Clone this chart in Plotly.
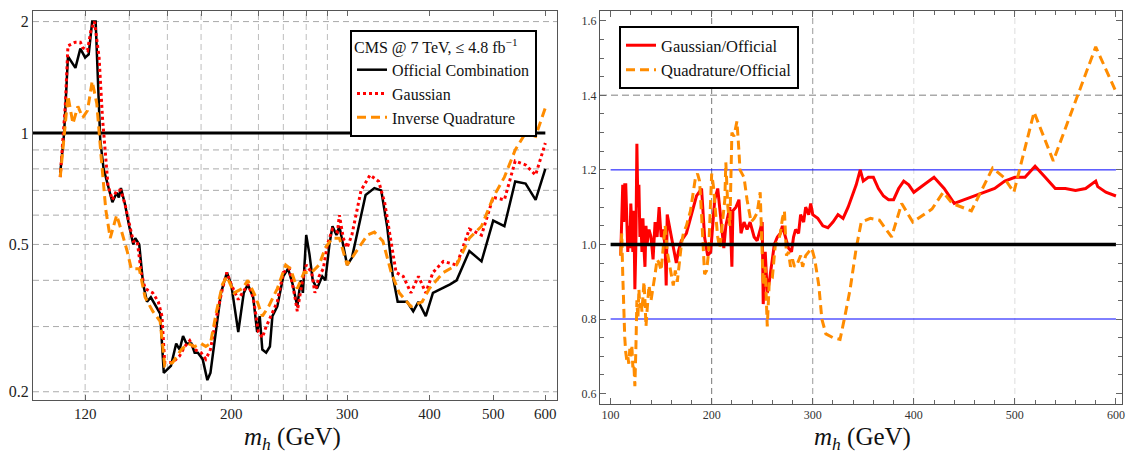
import math
import plotly.graph_objects as go

# ---------------- data ----------------
mass_official = [110, 111.5, 113, 116, 118, 120, 121.5, 123, 124.5, 126.5,
                 128, 130, 132, 134, 135, 136, 138, 140, 142, 143,
                 145, 147, 149, 151, 154, 156, 158, 162, 165, 167,
                 169, 171, 174, 176, 178, 181, 184, 186, 190, 193,
                 197, 200, 205, 209, 212, 216, 219, 221, 223, 226,
                 229, 231, 235, 240, 244, 248, 252, 255, 257, 260,
                 263, 266, 270, 275, 278, 282, 285, 289, 292, 296,
                 300, 305, 320, 330, 338, 345, 352, 358, 370, 378,
                 385, 395, 405, 430, 440, 460, 480, 500, 520, 540,
                 560, 580, 600]
mu_official = [0.78, 1.0, 1.61, 1.5, 1.69, 1.6, 1.63, 2.0, 2.0, 0.96,
               0.8, 0.72, 0.65, 0.69, 0.67, 0.71, 0.64, 0.56, 0.5, 0.52,
               0.5, 0.39, 0.35, 0.36, 0.34, 0.325, 0.225, 0.235, 0.27, 0.26,
               0.283, 0.27, 0.27, 0.255, 0.255, 0.245, 0.215, 0.225, 0.3, 0.37,
               0.42, 0.39, 0.29, 0.37, 0.39, 0.36, 0.29, 0.32, 0.26, 0.255,
               0.265, 0.32, 0.34, 0.41, 0.43, 0.39, 0.34, 0.4, 0.37, 0.53,
               0.47, 0.4, 0.38, 0.41, 0.4, 0.5, 0.56, 0.53, 0.56, 0.5,
               0.44, 0.46, 0.68, 0.71, 0.7, 0.56, 0.41, 0.35, 0.35, 0.33,
               0.35, 0.32, 0.37, 0.39, 0.4, 0.48, 0.45, 0.58, 0.56, 0.74,
               0.73, 0.66, 0.8]

mass_gauss = [110, 112, 113, 116, 118, 119, 121, 122.5, 124, 126,
              127.5, 129, 130, 132, 134, 136, 138, 140, 142, 144,
              146, 148, 152, 155, 157, 158.5, 163, 167, 170, 173,
              176, 180, 183, 186, 190, 194, 197, 200, 205, 212,
              216, 220, 223, 226, 230, 235, 240, 245, 250, 252,
              256, 260, 265, 268, 272, 276, 280, 285, 290, 292,
              296, 300, 305, 315, 325, 335, 342, 350, 356, 365,
              375, 385, 395, 405, 420, 440, 460, 480, 500, 520,
              540, 560, 580, 600]
mu_gauss = [0.76, 1.2, 1.72, 1.76, 1.76, 1.7, 1.67, 1.9, 2.0, 1.6,
            1.1, 0.85, 0.72, 0.66, 0.7, 0.7, 0.64, 0.57, 0.51, 0.51,
            0.42, 0.38, 0.37, 0.35, 0.32, 0.24, 0.24, 0.25, 0.265, 0.275,
            0.26, 0.255, 0.245, 0.26, 0.32, 0.38, 0.42, 0.39, 0.355, 0.39,
            0.36, 0.29, 0.28, 0.3, 0.32, 0.35, 0.42, 0.43, 0.36, 0.33,
            0.39, 0.44, 0.42, 0.37, 0.41, 0.43, 0.5, 0.55, 0.54, 0.6,
            0.52, 0.49, 0.53, 0.7, 0.77, 0.74, 0.65, 0.5, 0.42, 0.41,
            0.37, 0.41, 0.37, 0.42, 0.45, 0.44, 0.55, 0.53, 0.67, 0.66,
            0.84, 0.82, 0.77, 0.94]

mass_quad = [110, 112, 113, 115, 117, 119, 121, 123, 125, 127,
             129, 131, 134, 136, 139, 141, 145, 148, 152, 156,
             158.5, 163, 168, 172, 176, 180, 183, 186, 190, 194,
             197, 202, 208, 212, 218, 223, 228, 235, 242, 246,
             252, 258, 265, 272, 278, 285, 292, 300, 310, 322,
             330, 340, 350, 360, 375, 390, 400, 420, 440, 460,
             480, 500, 520, 540, 560, 580, 600]
mu_quad = [0.76, 1.05, 1.26, 1.06, 1.18, 1.1, 1.15, 1.38, 1.2, 0.85,
           0.62, 0.52, 0.6, 0.55, 0.48, 0.43, 0.43, 0.36, 0.33, 0.31,
           0.235, 0.24, 0.26, 0.27, 0.265, 0.27, 0.265, 0.27, 0.33, 0.39,
           0.41, 0.37, 0.38, 0.4, 0.36, 0.32, 0.34, 0.38, 0.44, 0.43,
           0.38, 0.42, 0.42, 0.44, 0.49, 0.52, 0.52, 0.44, 0.48, 0.53,
           0.54, 0.51, 0.42, 0.37, 0.34, 0.35, 0.38, 0.42, 0.44, 0.52,
           0.56, 0.67, 0.76, 0.9, 1.0, 0.98, 1.17]

mass_ratio_gauss = [110, 111, 112, 113, 114, 115, 116, 117, 118, 119,
                    120, 121, 122, 123, 124, 125, 126, 127, 128, 129,
                    130, 131, 132, 133, 134, 135, 136, 138, 140, 142,
                    144, 146, 148, 150, 152, 154, 155, 156, 158, 160,
                    163, 165, 167, 170, 175, 180, 185, 190, 193, 196,
                    199, 203, 206, 209, 212, 214, 218, 220, 221, 224,
                    227, 229, 232, 235, 238, 242, 245, 248, 250, 251,
                    253, 255, 257, 260, 262, 265, 268, 270, 273, 276,
                    279, 281, 283, 286, 288, 291, 293, 296, 298, 300,
                    305, 310, 315, 320, 325, 330, 335, 340, 343, 347,
                    350, 355, 360, 365, 370, 375, 380, 385, 390, 395,
                    400, 410, 420, 430, 440, 450, 460, 470, 480, 490,
                    500, 510, 520, 530, 540, 550, 560, 570, 580, 582,
                    590, 600]
ratio_gauss = [0.97, 1.05, 1.16, 1.06, 1.16, 1.16, 1.08, 0.98, 1.05, 0.99,
               1.11, 1.05, 0.98, 1.09, 0.88, 1.0, 1.27, 1.1, 1.16, 1.02,
               1.07, 0.98, 1.07, 0.99, 0.94, 1.05, 1.0, 1.04, 1.02, 0.96,
               1.06, 1.02, 1.1, 1.02, 1.04, 0.99, 0.89, 1.08, 1.05, 1.02,
               0.98, 0.95, 0.98, 1.01, 1.03, 1.08, 1.13, 1.15, 1.02, 0.97,
               0.98, 1.12, 1.15, 1.07, 0.99, 1.05, 1.1, 0.94, 1.09, 1.1,
               1.12, 1.03, 1.06, 1.04, 1.06, 1.02, 1.01, 1.04, 1.06, 0.84,
               0.98, 0.87, 0.9, 0.96, 1.0, 1.02, 1.03, 1.05, 1.02, 0.99,
               0.98, 1.02, 1.04, 1.03, 1.08, 1.06, 1.1, 1.08, 1.11, 1.08,
               1.07, 1.05, 1.045, 1.06, 1.08, 1.07, 1.1, 1.14, 1.16, 1.2,
               1.17, 1.18, 1.18, 1.15, 1.13, 1.12, 1.12, 1.15, 1.17, 1.16,
               1.14, 1.16, 1.18, 1.15, 1.11, 1.12, 1.13, 1.14, 1.15, 1.17,
               1.18, 1.18, 1.21, 1.18, 1.15, 1.15, 1.145, 1.15, 1.17, 1.155,
               1.14, 1.13]

mass_ratio_quad = [110, 111, 112, 113, 114, 115, 116, 117, 118, 119,
                   120, 121, 122, 123, 124, 125, 126, 127, 128, 129,
                   130, 131, 132, 133, 134, 135, 136, 138, 140, 142,
                   144, 146, 148, 150, 152, 154, 156, 158, 160, 162,
                   164, 166, 168, 170, 172, 175, 179, 182, 184, 186,
                   188, 190, 192, 193, 195, 197, 200, 202, 204, 206,
                   208, 211, 213, 214, 216, 218, 219, 220, 222, 225,
                   227, 228, 230, 232, 235, 239, 242, 245, 248, 249,
                   251, 253, 255, 257, 260, 263, 266, 268, 270, 272,
                   274, 276, 278, 280, 282, 285, 288, 290, 293, 296,
                   299, 302, 306, 309, 313, 320, 327, 332, 337, 343,
                   348, 357, 366, 378, 388, 399, 418, 429, 438, 457,
                   478, 489, 499, 519, 538, 580, 600]
ratio_quad = [0.97, 1.03, 0.92, 0.81, 0.75, 0.71, 0.69, 0.7, 0.68, 0.72,
              0.7, 0.73, 0.67, 0.68, 0.62, 0.72, 0.85, 0.8, 0.88, 0.83,
              0.85, 0.82, 0.88, 0.9, 0.85, 0.78, 0.82, 0.89, 0.85, 0.88,
              0.92, 0.96, 0.95, 0.93, 1.0, 1.05, 0.98, 0.95, 0.92, 0.89,
              0.93, 0.9, 0.95, 1.0, 1.03, 1.05, 1.09, 1.14, 1.18, 1.19,
              1.17, 1.08, 0.96, 0.92, 0.93, 0.98, 1.19, 1.15, 1.08, 1.02,
              0.99, 1.07, 1.12, 1.22, 1.1, 1.05, 1.23, 1.3, 1.29, 1.33,
              1.25, 1.2, 1.19, 1.18, 1.12, 1.06, 1.07, 1.085, 1.14, 1.05,
              0.89, 0.94, 0.78, 0.9, 0.91, 1.0, 1.01, 1.03, 1.07, 1.09,
              0.97, 0.98, 0.94, 0.96, 0.94, 0.95, 0.97, 0.94, 0.97, 0.98,
              0.99, 0.96, 0.89, 0.8, 0.76, 0.75, 0.745, 0.81, 0.88, 0.99,
              1.06, 1.07, 1.065, 1.02, 1.11, 1.06, 1.095, 1.14, 1.11, 1.09,
              1.205, 1.18, 1.14, 1.355, 1.224, 1.53, 1.41]

left_xticks = [120, 200, 300, 400, 500, 600]
left_xminor = [140, 160, 180, 220, 240, 260, 280]
left_yticks = [0.2, 0.5, 1, 2]
left_yticklabels = ["0.2", "0.5", "1", "2"]
right_xticks = [100, 200, 300, 400, 500, 600]
right_yticks = [0.6, 0.8, 1.0, 1.2, 1.4, 1.6]

# ---------------- figure ----------------
FONT = "Liberation Serif"
ORANGE = "#ff8c00"
RED = "#ff0000"
W, H = 1127, 455

fig = go.Figure()

fig.add_trace(go.Scatter(x=mass_official, y=mu_official, mode="lines",
                         name="Official Combination", legendgroup="a",
                         line=dict(color="black", width=2.5),
                         xaxis="x", yaxis="y", legend="legend"))
fig.add_trace(go.Scatter(x=mass_gauss, y=mu_gauss, mode="lines",
                         name="Gaussian", legendgroup="b",
                         line=dict(color=RED, width=3, dash="3px,3px"),
                         xaxis="x", yaxis="y", legend="legend"))
fig.add_trace(go.Scatter(x=mass_quad, y=mu_quad, mode="lines",
                         name="Inverse Quadrature", legendgroup="c",
                         line=dict(color=ORANGE, width=3, dash="9px,5px"),
                         xaxis="x", yaxis="y", legend="legend"))

fig.add_trace(go.Scatter(x=mass_ratio_gauss, y=ratio_gauss, mode="lines",
                         name="Gaussian/Official", legendgroup="d",
                         line=dict(color=RED, width=3),
                         xaxis="x2", yaxis="y2", legend="legend2"))
fig.add_trace(go.Scatter(x=mass_ratio_quad, y=ratio_quad, mode="lines",
                         name="Quadrature/Official", legendgroup="e",
                         line=dict(color=ORANGE, width=3, dash="9px,5px"),
                         xaxis="x2", yaxis="y2", legend="legend2"))

shapes = []
# left panel grid
for m in [120, 140, 160, 180, 200, 220, 240, 260, 280]:
    shapes.append(dict(type="line", xref="x", yref="y domain", x0=m, x1=m, y0=0, y1=1,
                       line=dict(color="#bdbdbd", width=1, dash="6px,4px"), layer="below"))
for v in [0.2, 0.3, 0.4, 0.5, 0.6, 0.7, 0.8, 0.9, 2]:
    shapes.append(dict(type="line", xref="x domain", yref="y", x0=0, x1=1, y0=v, y1=v,
                       line=dict(color="#aaaaaa", width=1, dash="6px,4px"), layer="below"))
shapes.append(dict(type="line", xref="x", yref="y", x0=100, x1=600, y0=1, y1=1,
                   line=dict(color="black", width=3), layer="below"))

# right panel grid
for m, c in [(200, "#777777"), (300, "#9a9a9a"), (400, "#dddddd"), (500, "#dddddd")]:
    shapes.append(dict(type="line", xref="x2", yref="y2 domain", x0=m, x1=m, y0=0, y1=1,
                       line=dict(color=c, width=1, dash="6px,4px"), layer="below"))
shapes.append(dict(type="line", xref="x2 domain", yref="y2", x0=0, x1=1, y0=1.4, y1=1.4,
                   line=dict(color="#aaaaaa", width=1.5, dash="7px,4px"), layer="below"))
for v in [1.2, 0.8]:
    shapes.append(dict(type="line", xref="x2", yref="y2", x0=100, x1=600, y0=v, y1=v,
                       line=dict(color="#0000ff", width=1), layer="below"))
shapes.append(dict(type="line", xref="x2", yref="y2", x0=100, x1=600, y0=1, y1=1,
                   line=dict(color="black", width=3.5), layer="above"))

axis_common = dict(showline=True, linecolor="#555555", linewidth=1, showgrid=False,
                   zeroline=False, ticks="inside", tickcolor="#666666",
                   automargin=False, ticklabeloverflow="allow")

fig.update_layout(
    width=W, height=H,
    margin=dict(l=0, r=0, t=0, b=0, pad=0, autoexpand=False),
    paper_bgcolor="white", plot_bgcolor="white",
    font=dict(family=FONT, color="#222222"),
    shapes=shapes,
    xaxis=dict(axis_common, domain=[33 / W, 557 / W], type="log",
               range=[2.0, math.log10(625)], tickmode="array",
               tickvals=left_xticks, ticklen=5,
               minor=dict(tickmode="array", tickvals=left_xminor, ticklen=5,
                          ticks="inside", tickcolor="#666666"),
               mirror="ticks", tickfont=dict(size=15, family=FONT, color="#222222"),
               anchor="y"),
    yaxis=dict(axis_common, domain=[1 - 400 / H, 1 - 10.7 / H], type="log",
               range=[math.log10(0.19), math.log10(2.14)], tickmode="array",
               tickvals=left_yticks, ticktext=left_yticklabels, ticks="",
               mirror=True, tickfont=dict(size=16, family=FONT, color="#222222"),
               anchor="x"),
    xaxis2=dict(axis_common, domain=[600 / W, 1122 / W], range=[89.5, 606],
                tickmode="array", tickvals=right_xticks, ticklen=6,
                minor=dict(dtick=20, tick0=0, ticklen=4, ticks="inside", tickcolor="#666666"),
                mirror="ticks", tickfont=dict(size=12, family=FONT, color="#333333"),
                anchor="y2"),
    yaxis2=dict(axis_common, domain=[1 - 404 / H, 1 - 10.7 / H], range=[0.572, 1.627],
                tickmode="array", tickvals=right_yticks, tickformat=".1f", ticklen=6,
                minor=dict(dtick=0.05, tick0=0, ticklen=4, ticks="inside", tickcolor="#666666"),
                mirror="ticks", tickfont=dict(size=12, family=FONT, color="#333333"),
                anchor="x2"),
    legend=dict(x=350 / W, y=1 - 30 / H, xanchor="left", yanchor="top",
                bgcolor="white", bordercolor="black", borderwidth=2,
                font=dict(size=16, family=FONT, color="#111111"),
                title=dict(text="CMS @ 7 TeV, \u2264 4.8 fb<sup>\u22121</sup>",
                           font=dict(size=16, family=FONT, color="#111111")),
                tracegroupgap=0, itemwidth=30),
    legend2=dict(x=619 / W, y=1 - 26 / H, xanchor="left", yanchor="top",
                 bgcolor="white", bordercolor="black", borderwidth=2,
                 font=dict(size=16.5, family=FONT, color="#111111"),
                 tracegroupgap=0, itemwidth=30),
    annotations=[
        dict(text="<i>m</i><sub><i>h</i></sub> (GeV)", xref="paper", yref="paper",
             x=292 / W, y=0, xanchor="center", yanchor="bottom", borderpad=0,
             showarrow=False, font=dict(size=25, family=FONT, color="#111111")),
        dict(text="<i>m</i><sub><i>h</i></sub> (GeV)", xref="paper", yref="paper",
             x=862 / W, y=0, xanchor="center", yanchor="bottom", borderpad=0,
             showarrow=False, font=dict(size=25, family=FONT, color="#111111")),
    ],
)

fig.write_html("out.html",
               config={"displayModeBar": False},
               post_script="document.body.style.margin='0';document.body.style.overflow='hidden';")
